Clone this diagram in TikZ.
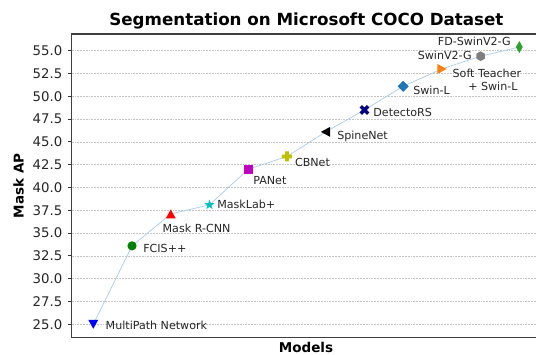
\documentclass[tikz,border=0pt]{standalone}
\usepackage{fontspec}
\setmainfont{DejaVu Sans}
\definecolor{mplcyan}{RGB}{0,191,191}
\definecolor{mplmagenta}{RGB}{191,0,191}
\definecolor{mplyellow}{RGB}{191,191,0}
\definecolor{mplgreen}{RGB}{0,128,0}
\definecolor{mplnavy}{RGB}{0,0,128}
\definecolor{tabblue}{RGB}{31,119,180}
\definecolor{taborange}{RGB}{255,127,14}
\definecolor{tabgray}{RGB}{127,127,127}
\definecolor{tabgreen}{RGB}{44,160,44}
\definecolor{trendblue}{RGB}{170,204,230}
\definecolor{gridgray}{RGB}{196,196,196}
\begin{document}
\begin{tikzpicture}[x=1pt,y=-1pt,
  every node/.style={inner sep=0pt,outer sep=0pt},
  ann/.style={font=\fontsize{11.1}{13}\selectfont,text=black!85,anchor=base west},
  annr/.style={ann,anchor=base east},
  ticklab/.style={font=\fontsize{13.3}{15}\selectfont,text=black!85,anchor=east},
  axlabel/.style={font=\fontsize{13.5}{15}\selectfont\bfseries},
  titlestyle/.style={font=\fontsize{16.7}{19}\selectfont\bfseries,anchor=base},
  gridline/.style={gridgray,line width=0.5pt,dash pattern=on 1.8pt off 1pt},
  tickmark/.style={black!80,line width=0.9pt},
  spine/.style={black!75,line width=1.5pt},
  trend/.style={trendblue,line width=0.7pt},
  % marker shapes, drawn around the origin (y grows downwards)
  tridown/.pic={\fill (0,4.5) -- (-5,-4.5) -- (5,-4.5) -- cycle;},
  triup/.pic={\fill (0,-4.5) -- (-5,4.5) -- (5,4.5) -- cycle;},
  trileft/.pic={\fill (-4.8,0) -- (4.5,-5) -- (4.5,5) -- cycle;},
  triright/.pic={\fill (4.8,0) -- (-4.5,-5) -- (-4.5,5) -- cycle;},
  dot/.pic={\fill (0,0) circle[radius=4.6];},
  square/.pic={\fill (-4.6,-4.6) rectangle (4.6,4.6);},
  diamondmk/.pic={\fill (0,-5.6) -- (5.6,0) -- (0,5.6) -- (-5.6,0) -- cycle;},
  thindiamond/.pic={\fill (0,-6) -- (3.4,0) -- (0,6) -- (-3.4,0) -- cycle;},
  hexmk/.pic={\fill (90:4.9) -- (150:4.9) -- (210:4.9) -- (270:4.9) -- (330:4.9) -- (30:4.9) -- cycle;},
  starmk/.pic={\fill (-90:5.2) -- (-54:2.1) -- (-18:5.2) -- (18:2.1) -- (54:5.2) -- (90:2.1)
      -- (126:5.2) -- (162:2.1) -- (198:5.2) -- (234:2.1) -- cycle;},
  plusmk/.pic={\fill (-1.8,-5) -- (1.8,-5) -- (1.8,-1.8) -- (5,-1.8) -- (5,1.8) -- (1.8,1.8)
      -- (1.8,5) -- (-1.8,5) -- (-1.8,1.8) -- (-5,1.8) -- (-5,-1.8) -- (-1.8,-1.8) -- cycle;},
  crossmk/.pic={\fill[rotate=45] (-1.7,-5.2) -- (1.7,-5.2) -- (1.7,-1.7) -- (5.2,-1.7) -- (5.2,1.7) -- (1.7,1.7)
      -- (1.7,5.2) -- (-1.7,5.2) -- (-1.7,1.7) -- (-5.2,1.7) -- (-5.2,-1.7) -- (-1.7,-1.7) -- cycle;},
]
\useasboundingbox (0,0) rectangle (536,354);
\fill[white] (0,0) rectangle (536,354);

% data-to-canvas mapping
\def\xo{93.3}\def\dx{38.73}\def\yb{324.3}\def\dy{9.12}

% grid lines, ticks and tick labels
\foreach \v/\t [count=\k] in {25/25.0,27.5/27.5,30/30.0,32.5/32.5,35/35.0,37.5/37.5,40/40.0,
    42.5/42.5,45/45.0,47.5/47.5,50/50.0,52.5/52.5,55/55.0} {
  \draw[gridline] (71.7,{\yb-(\v-25)*\dy}) -- (536,{\yb-(\v-25)*\dy});
  \draw[tickmark] (67.8,{\yb-(\v-25)*\dy}) -- (71.7,{\yb-(\v-25)*\dy});
  \node[ticklab] (tk\k) at (62.3,{\yb-(\v-25)*\dy}) {\t};
}

% data points
\coordinate (mpn)    at ({\xo+0*\dx},{\yb-(25.0-25)*\dy});
\coordinate (fcis)   at ({\xo+1*\dx},{\yb-(33.6-25)*\dy});
\coordinate (mrcnn)  at ({\xo+2*\dx},{\yb-(37.1-25)*\dy});
\coordinate (mlab)   at ({\xo+3*\dx},{\yb-(38.1-25)*\dy});
\coordinate (panet)  at ({\xo+4*\dx},{\yb-(42.0-25)*\dy});
\coordinate (cbnet)  at ({\xo+5*\dx},{\yb-(43.4-25)*\dy});
\coordinate (spine)  at ({\xo+6*\dx},{\yb-(46.1-25)*\dy});
\coordinate (drs)    at ({\xo+7*\dx},{\yb-(48.5-25)*\dy});
\coordinate (swinl)  at ({\xo+8*\dx},{\yb-(51.1-25)*\dy});
\coordinate (soft)   at ({\xo+9*\dx},{\yb-(53.0-25)*\dy});
\coordinate (swinv2) at ({\xo+10*\dx},{\yb-(54.4-25)*\dy});
\coordinate (fdswin) at ({\xo+11*\dx},{\yb-(55.4-25)*\dy});

% trend line
\draw[trend] (mpn) -- (fcis) -- (mrcnn) -- (mlab) -- (panet) -- (cbnet) -- (spine)
  -- (drs) -- (swinl) -- (soft) -- (swinv2) -- (fdswin);

% markers
\pic[fill=blue] at (mpn) {tridown};
\pic[fill=mplgreen] at (fcis) {dot};
\pic[fill=red] at (mrcnn) {triup};
\pic[fill=mplcyan] at (mlab) {starmk};
\pic[fill=mplmagenta] at (panet) {square};
\pic[fill=mplyellow] at (cbnet) {plusmk};
\pic[fill=black] at (spine) {trileft};
\pic[fill=mplnavy] at (drs) {crossmk};
\pic[fill=tabblue] at (swinl) {diamondmk};
\pic[fill=taborange] at (soft) {triright};
\pic[fill=tabgray] at (swinv2) {hexmk};
\pic[fill=tabgreen] at (fdswin) {thindiamond};

% point labels
\node[ann] (lmpn)   at ([shift={(12.4,4.7)}]mpn) {MultiPath Network};
\node[ann] (lfcis)  at ([shift={(11.3,6.8)}]fcis) {FCIS++};
\node[ann] (lmrcnn) at ([shift={(-8.1,18.4)}]mrcnn) {Mask R-CNN};
\node[ann] (lmlab)  at ([shift={(7.8,3.5)}]mlab) {MaskLab+};
\node[ann] (lpanet) at ([shift={(5.1,15.6)}]panet) {PANet};
\node[ann] (lcbnet) at ([shift={(8.1,10.2)}]cbnet) {CBNet};
\node[ann] (lspine) at ([shift={(11.6,7.4)}]spine) {SpineNet};
\node[ann] (ldrs)   at ([shift={(9,6.7)}]drs) {DetectoRS};
\node[ann] (lswinl) at ([shift={(10.2,8)}]swinl) {Swin-L};
\node[ann] (lsoft1) at ([shift={(10.8,8.4)}]soft) {Soft Teacher};
\node[ann] (lsoft2) at ([shift={(26.4,21.1)}]soft) {+ Swin-L};
\node[annr] (lswinv2) at ([shift={(-8.9,3.1)}]swinv2) {SwinV2-G};
\node[annr] (lfdswin) at ([shift={(-8.6,-2)}]fdswin) {FD-SwinV2-G};

% axes frame
\draw[spine] (540.3,34) -- (71.7,34) -- (71.7,337.7) -- (540.3,337.7);

% title and axis labels
\node[titlestyle] (title) at (306.4,25.3) {Segmentation on Microsoft COCO Dataset};
\node[axlabel,rotate=90] (ylab) at (18.5,185.9) {Mask AP};
\node[axlabel,anchor=base] (xlab) at (306,352) {Models};
\end{tikzpicture}
\end{document}
